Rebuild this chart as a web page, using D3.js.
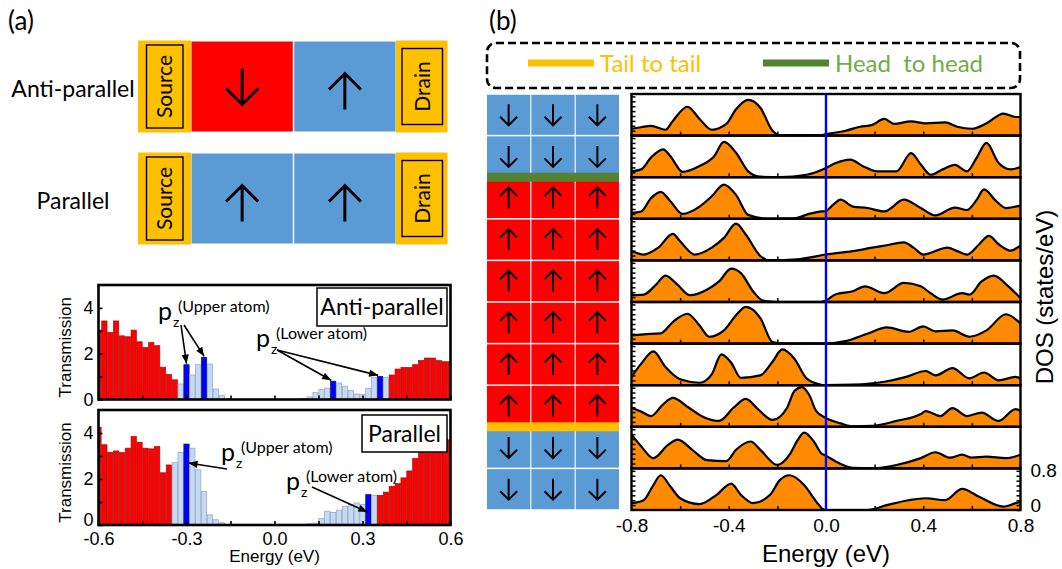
<!DOCTYPE html>
<html>
<head>
<meta charset="utf-8">
<script src="https://cdnjs.cloudflare.com/ajax/libs/d3/7.8.5/d3.min.js"></script>
<style>
	body { margin: 0; background: #fff; }
	text { font-family: "Liberation Sans", Arial, sans-serif; fill: #000; }
	.cal { font-family: Lato, "Open Sans", sans-serif; }
</style>
</head>
<body>
<svg id="fig" width="1062" height="569"></svg>
<script>
// ---------- data ----------
// (a) device sketch
var deviceLabels = ["Anti-parallel", "Parallel"];
var deviceSpins = [["down", "up"], ["up", "up"]];
var deviceColors = [["#ff0000", "#5b9bd5"], ["#5b9bd5", "#5b9bd5"]];

// (a) transmission, bins of 0.02 eV
var energies = [-0.60,-0.58,-0.56,-0.54,-0.52,-0.50,-0.48,-0.46,-0.44,-0.42,-0.40,-0.38,-0.36,-0.34,-0.32,-0.30,
	-0.28,-0.26,-0.24,-0.22,-0.20,-0.18,-0.16,-0.14,-0.12,-0.10,-0.08,-0.06,-0.04,-0.02,0.00,0.02,0.04,0.06,0.08,
	0.10,0.12,0.14,0.16,0.18,0.20,0.22,0.24,0.26,0.28,0.30,0.32,0.34,0.36,0.38,0.40,0.42,0.44,0.46,0.48,0.50,
	0.52,0.54,0.56,0.58,0.60];
var transAP = [3.03,3.43,2.93,3.43,2.78,2.74,3.03,2.52,2.27,2.49,2.35,1.41,1.09,0.86,0.68,1.52,
	1.07,1.52,1.84,1.55,0.46,0.17,0.03,0,0,0,0,0,0,0,0,0,0,0,0,
	0.05,0.12,0.30,0.43,0.50,0.80,0.72,0.58,0.39,0.24,0.22,0.48,0.97,1.01,0.97,1.07,1.33,1.40,1.40,1.52,1.70,
	1.81,1.81,1.70,1.65,1.65];
var transP = [4.25,3.49,3.16,3.22,3.15,3.34,3.85,3.60,3.34,3.31,3.41,2.27,2.61,2.72,3.15,3.52,
	3.34,2.40,1.46,0.44,0.23,0.10,0.03,0,0,0,0,0,0,0,0,0,0,0,0,
	0.03,0.05,0.08,0.28,0.60,0.55,0.65,0.80,0.88,0.96,0.90,1.32,1.29,1.29,1.43,1.68,1.80,2.05,2.35,2.90,3.63,
	3.90,3.95,3.85,3.75,3.70];
var apLight = [[-0.32, -0.16], [0.10, 0.38]];
var apPz = [-0.30, -0.24, 0.20, 0.36];
var pLight = [[-0.34, -0.16], [0.10, 0.34]];
var pPz = [-0.30, 0.32];
var transTicks = [-0.6, -0.3, 0, 0.3, 0.6];

// (b) layer spins, top to bottom
var layerSpins = ["down","down","up","up","up","up","up","up","down","down"];

// (b) DOS per layer, [energy eV, states/eV]
var dos1 = [[-0.80,0.14],[-0.76,0.17],[-0.72,0.20],[-0.66,0.12],[-0.63,0.30],[-0.57,0.59],[-0.52,0.34],[-0.47,0.12],[-0.41,0.24],[-0.37,0.54],[-0.32,0.73],[-0.27,0.57],[-0.22,0.10],[-0.19,0.01],[-0.02,0.01],[0.00,0.03],[0.08,0.10],[0.14,0.18],[0.19,0.22],[0.24,0.34],[0.28,0.24],[0.35,0.29],[0.41,0.25],[0.49,0.27],[0.54,0.18],[0.60,0.14],[0.66,0.25],[0.73,0.45],[0.78,0.38],[0.80,0.38]];
var dos2 = [[-0.80,0.12],[-0.76,0.16],[-0.72,0.40],[-0.67,0.57],[-0.64,0.43],[-0.59,0.11],[-0.52,0.23],[-0.46,0.43],[-0.42,0.72],[-0.37,0.50],[-0.32,0.12],[-0.27,0.01],[-0.19,0.00],[-0.08,0.05],[0.00,0.19],[0.04,0.29],[0.10,0.36],[0.15,0.23],[0.21,0.12],[0.29,0.12],[0.35,0.49],[0.39,0.26],[0.43,0.05],[0.48,0.16],[0.53,0.25],[0.58,0.12],[0.62,0.40],[0.66,0.70],[0.71,0.29],[0.76,0.16],[0.80,0.21]];
var dos3 = [[-0.80,0.12],[-0.76,0.15],[-0.72,0.42],[-0.68,0.55],[-0.64,0.36],[-0.59,0.10],[-0.52,0.25],[-0.47,0.46],[-0.42,0.70],[-0.37,0.49],[-0.32,0.08],[-0.24,0.00],[-0.13,0.01],[-0.07,0.10],[-0.02,0.15],[0.00,0.16],[0.03,0.29],[0.06,0.39],[0.11,0.25],[0.17,0.22],[0.24,0.15],[0.32,0.39],[0.39,0.22],[0.45,0.07],[0.53,0.23],[0.58,0.18],[0.62,0.39],[0.65,0.60],[0.70,0.36],[0.74,0.22],[0.80,0.27]];
var dos4 = [[-0.80,0.19],[-0.75,0.12],[-0.69,0.26],[-0.63,0.54],[-0.60,0.39],[-0.54,0.12],[-0.47,0.26],[-0.42,0.46],[-0.37,0.75],[-0.33,0.53],[-0.27,0.09],[-0.23,0.00],[-0.12,0.02],[0.00,0.12],[0.11,0.19],[0.19,0.26],[0.25,0.31],[0.32,0.37],[0.36,0.26],[0.40,0.12],[0.50,0.26],[0.54,0.19],[0.58,0.12],[0.63,0.33],[0.67,0.50],[0.71,0.33],[0.76,0.20],[0.80,0.31]];
var dos5 = [[-0.80,0.14],[-0.75,0.15],[-0.70,0.35],[-0.66,0.54],[-0.61,0.35],[-0.56,0.14],[-0.49,0.25],[-0.44,0.42],[-0.39,0.68],[-0.35,0.59],[-0.30,0.22],[-0.26,0.03],[-0.20,0.00],[-0.02,0.00],[0.00,0.03],[0.04,0.16],[0.11,0.22],[0.16,0.32],[0.24,0.18],[0.32,0.39],[0.39,0.32],[0.43,0.18],[0.48,0.05],[0.56,0.18],[0.59,0.15],[0.64,0.42],[0.69,0.54],[0.75,0.32],[0.80,0.08]];
var dos6 = [[-0.80,0.17],[-0.75,0.19],[-0.68,0.21],[-0.63,0.44],[-0.57,0.61],[-0.52,0.37],[-0.48,0.14],[-0.42,0.27],[-0.37,0.58],[-0.33,0.75],[-0.27,0.52],[-0.22,0.03],[-0.18,0.00],[0.00,0.00],[0.08,0.05],[0.17,0.20],[0.25,0.33],[0.34,0.24],[0.40,0.35],[0.45,0.25],[0.52,0.27],[0.59,0.14],[0.66,0.27],[0.74,0.60],[0.80,0.41]];
var dos7 = [[-0.80,0.17],[-0.76,0.44],[-0.71,0.69],[-0.66,0.37],[-0.60,0.12],[-0.52,0.05],[-0.47,0.22],[-0.43,0.63],[-0.39,0.46],[-0.35,0.15],[-0.27,0.20],[-0.22,0.48],[-0.18,0.73],[-0.13,0.54],[-0.08,0.14],[-0.02,0.01],[0.00,0.00],[0.11,0.01],[0.24,0.07],[0.33,0.17],[0.41,0.29],[0.45,0.20],[0.52,0.35],[0.59,0.14],[0.65,0.26],[0.71,0.10],[0.78,0.17],[0.80,0.14]];
var dos8 = [[-0.80,0.39],[-0.76,0.31],[-0.72,0.22],[-0.67,0.46],[-0.63,0.59],[-0.57,0.41],[-0.50,0.19],[-0.44,0.12],[-0.38,0.39],[-0.33,0.57],[-0.28,0.36],[-0.22,0.14],[-0.16,0.39],[-0.13,0.73],[-0.10,0.81],[-0.07,0.66],[-0.04,0.32],[0.00,0.18],[0.06,0.07],[0.11,0.01],[0.19,0.02],[0.29,0.12],[0.39,0.26],[0.41,0.32],[0.47,0.22],[0.52,0.38],[0.58,0.22],[0.64,0.29],[0.71,0.12],[0.78,0.36],[0.80,0.32]];
var dos9 = [[-0.80,0.69],[-0.76,0.45],[-0.71,0.21],[-0.65,0.48],[-0.61,0.59],[-0.55,0.38],[-0.49,0.17],[-0.41,0.15],[-0.37,0.38],[-0.31,0.55],[-0.27,0.38],[-0.20,0.07],[-0.15,0.28],[-0.12,0.55],[-0.09,0.73],[-0.05,0.55],[-0.02,0.31],[0.00,0.26],[0.04,0.14],[0.11,0.01],[0.19,0.00],[0.29,0.07],[0.39,0.21],[0.45,0.33],[0.51,0.22],[0.56,0.28],[0.60,0.22],[0.66,0.24],[0.74,0.21],[0.80,0.28]];
var dos10 = [[-0.80,0.14],[-0.75,0.20],[-0.71,0.51],[-0.68,0.71],[-0.64,0.48],[-0.60,0.24],[-0.52,0.12],[-0.45,0.31],[-0.39,0.54],[-0.35,0.31],[-0.30,0.14],[-0.23,0.31],[-0.19,0.61],[-0.15,0.71],[-0.09,0.51],[-0.04,0.17],[-0.01,0.01],[0.00,0.00],[0.17,0.00],[0.25,0.10],[0.34,0.20],[0.41,0.24],[0.49,0.20],[0.56,0.43],[0.63,0.27],[0.73,0.07],[0.78,0.14],[0.80,0.17]];
var dosLayers = [dos1, dos2, dos3, dos4, dos5, dos6, dos7, dos8, dos9, dos10];
var dosTicks = [-0.8, -0.4, 0, 0.4, 0.8];

var legendLabels = ["Tail to tail", "Head  to head"];
var legendColors = ["#ffc000", "#548235"];
var legendText = ["#ffc000", "#70ad47"];

// ---------- helpers ----------
var svg = d3.select("#fig");
var defs = svg.append("defs");
defs.append("marker")
	.attr("id", "ah").attr("viewBox", "0 0 10 10")
	.attr("refX", 10).attr("refY", 5)
	.attr("markerUnits", "userSpaceOnUse")
	.attr("markerWidth", 10).attr("markerHeight", 9)
	.attr("orient", "auto")
	.append("path").attr("d", "M0,1L10,5L0,9z").attr("fill", "#000");

function arrowPath(cx, cy, len, hw, hl, dir) {
	var s = dir === "up" ? -1 : 1;
	var tip = cy + s * len / 2, tail = cy - s * len / 2;
	var p = d3.path();
	p.moveTo(cx, tail); p.lineTo(cx, tip);
	p.moveTo(cx - hw, tip - s * hl); p.lineTo(cx, tip); p.lineTo(cx + hw, tip - s * hl);
	return p.toString();
}
function fmt1(d) { return d.toFixed(1); }

// ---------- (a) device ----------
svg.append("text").attr("class", "cal").attr("x", 8).attr("y", 30)
	.style("font-size", "26px").text("(a)");

var rowTop = [41.5, 153.5], rowH = 90;
var cellX = d3.scaleBand().domain([0, 1]).range([191.5, 395.5]).paddingInner(0.014);

deviceLabels.forEach(function(lab, r) {
	var y0 = rowTop[r];
	var g = svg.append("g");
	g.append("text").attr("class", "cal")
		.attr("x", 73).attr("y", y0 + 47).attr("dy", "0.35em")
		.attr("text-anchor", "middle").style("font-size", "23px").text(lab);

	// leads
	[{x: 138, w: 53, ix: 146.5, iw: 36.5, t: "Source"}, {x: 396, w: 51.5, ix: 402, iw: 40.5, t: "Drain"}]
	.forEach(function(ld, k) {
		g.append("rect").attr("x", ld.x).attr("y", y0 - 1).attr("width", ld.w).attr("height", rowH + 2)
			.attr("fill", "#ffc000");
		var iy = k === 0 ? 3.5 : 7;
		g.append("rect").attr("x", ld.ix).attr("y", y0 + iy).attr("width", ld.iw).attr("height", rowH - 2 * iy)
			.attr("fill", "none").attr("stroke", "#000").attr("stroke-width", 1.4);
		g.append("text").attr("class", "cal")
			.attr("transform", "translate(" + (ld.ix + ld.iw / 2) + "," + (y0 + rowH / 2) + ") rotate(-90)")
			.attr("text-anchor", "middle").attr("dy", "0.35em")
			.style("font-size", "21px").text(ld.t);
	});

	g.selectAll(".cell").data(deviceSpins[r]).enter().append("rect")
		.attr("x", function(d, i) { return cellX(i); })
		.attr("y", y0).attr("width", cellX.bandwidth()).attr("height", rowH)
		.attr("fill", function(d, i) { return deviceColors[r][i]; });
	g.selectAll(".arr").data(deviceSpins[r]).enter().append("path")
		.attr("d", function(d, i) {
			return arrowPath(cellX(i) + cellX.bandwidth() / 2, y0 + rowH / 2 + (d === "up" ? 5 : 0), 36, 16, 16, d);
		})
		.attr("fill", "none").attr("stroke", "#000").attr("stroke-width", 3);
});

// ---------- (a) transmission ----------
var xT = d3.scaleLinear().domain([-0.6, 0.6]).range([98.5, 450.5]);
var transPanels = [
	{vals: transAP, light: apLight, pz: apPz, top: 285, bottom: 399.5, labels: false},
	{vals: transP, light: pLight, pz: pPz, top: 410, bottom: 525, labels: true}
];
var bw = xT(0.02) - xT(0);

transPanels.forEach(function(P, k) {
	var y = d3.scaleLinear().domain([0, 5]).range([P.bottom, P.top]);
	var g = svg.append("g");
	defs.append("clipPath").attr("id", "tclip" + k).append("rect")
		.attr("x", xT(-0.6)).attr("y", P.top).attr("width", xT(0.6) - xT(-0.6)).attr("height", P.bottom - P.top);

	function kind(e) {
		if (P.pz.some(function(p) { return Math.abs(p - e) < 1e-6; })) return "pz";
		if (P.light.some(function(r) { return e >= r[0] - 1e-6 && e <= r[1] + 1e-6; })) return "light";
		return "red";
	}
	var fills = {red: "#ff0000", light: "#c6d9f1", pz: "#0000ff"};
	var strokes = {red: "#9a1010", light: "#8ea4c8", pz: "#101060"};

	g.append("g").attr("clip-path", "url(#tclip" + k + ")")
		.selectAll("rect").data(energies).enter()
		.filter(function(e, i) { return P.vals[i] > 0; })
		.append("rect")
		.attr("x", function(e) { return xT(e) - bw / 2 + 0.3; })
		.attr("width", bw - 0.6)
		.attr("y", function(e) { return y(P.vals[energies.indexOf(e)]); })
		.attr("height", function(e) { return P.bottom - y(P.vals[energies.indexOf(e)]); })
		.attr("fill", function(e) { return fills[kind(e)]; })
		.attr("stroke", function(e) { return strokes[kind(e)]; })
		.attr("stroke-width", 0.7);

	// axes with inward ticks
	var ay = g.append("g").attr("transform", "translate(" + xT(-0.6) + ",0)")
		.call(d3.axisLeft(y).tickValues([0, 2, 4]).tickFormat(d3.format("d"))
			.tickSizeInner(-4).tickSizeOuter(0).tickPadding(5));
	if (P.labels) ay.selectAll("text").attr("dy", function(d) { return d === 0 ? "0.05em" : "0.32em"; });
	g.append("g").attr("transform", "translate(" + xT(-0.6) + ",0)")
		.call(d3.axisLeft(y).tickValues([1, 3]).tickFormat("").tickSizeInner(-4).tickSizeOuter(0));
	g.append("g").attr("transform", "translate(0," + P.bottom + ")")
		.call(d3.axisBottom(xT).tickValues(transTicks).tickFormat(P.labels ? fmt1 : "")
			.tickSizeInner(-4).tickSizeOuter(0).tickPadding(7));
	g.append("g").attr("transform", "translate(0," + P.bottom + ")")
		.call(d3.axisBottom(xT).tickValues([-0.45, -0.15, 0.15, 0.45]).tickFormat("").tickSizeInner(-4).tickSizeOuter(0));
	g.selectAll(".domain").remove();
	g.selectAll(".tick line").attr("stroke", "#000").attr("stroke-width", 1.6);
	g.selectAll(".tick text").style("font-size", "18px").attr("fill", "#000")
		.style("font-family", "'Liberation Sans', Arial, sans-serif");

	g.append("rect").attr("x", xT(-0.6)).attr("y", P.top)
		.attr("width", xT(0.6) - xT(-0.6)).attr("height", P.bottom - P.top)
		.attr("fill", "none").attr("stroke", "#000").attr("stroke-width", 2.6);

	g.append("text").attr("transform", "translate(65," + ((P.top + P.bottom) / 2 + 5) + ") rotate(-90)")
		.attr("text-anchor", "middle").attr("dy", "0.35em").style("font-size", "17px").text("Transmission");
});
svg.append("text").attr("x", xT(0)).attr("y", 562).attr("text-anchor", "middle")
	.style("font-size", "17px").text("Energy (eV)");

// labelled boxes
function labelBox(x, y, w, h, t) {
	svg.append("rect").attr("x", x).attr("y", y).attr("width", w).attr("height", h)
		.attr("fill", "#fff").attr("stroke", "#000").attr("stroke-width", 1.5);
	svg.append("text").attr("class", "cal").attr("x", x + w / 2).attr("y", y + h / 2).attr("dy", "0.36em")
		.attr("text-anchor", "middle").style("font-size", "23px").text(t);
}
labelBox(317, 288, 130, 38, "Anti-parallel");
labelBox(362, 415, 85, 37, "Parallel");

// p_z annotations
function pz(x, y, atom) {
	var t = svg.append("g").attr("class", "cal");
	t.append("text").attr("class", "cal").attr("x", x).attr("y", y).style("font-size", "25px").text("p");
	t.append("text").attr("class", "cal").attr("x", x + 15).attr("y", y + 7).style("font-size", "14px").text("z");
	t.append("text").attr("class", "cal").attr("x", x + 20).attr("y", y - 8).style("font-size", "16px").text(atom);
}
function pointer(x1, y1, x2, y2) {
	svg.append("line").attr("x1", x1).attr("y1", y1).attr("x2", x2).attr("y2", y2)
		.attr("stroke", "#000").attr("stroke-width", 1.6).attr("marker-end", "url(#ah)");
}
var yA = d3.scaleLinear().domain([0, 5]).range([399.5, 285]);
pz(158, 320, "(Upper atom)");
pointer(181, 325, xT(-0.30), yA(transAP[15]) - 1);
pointer(184, 325, xT(-0.24), yA(transAP[18]) - 1);
pz(256, 347, "(Lower atom)");
pointer(277, 350, xT(0.20) - 2, yA(transAP[40]) - 1);
pointer(277, 350, xT(0.36) - 2, yA(transAP[48]) - 1);
pz(221, 461, "(Upper atom)");
pointer(227, 469, xT(-0.30) + 2, 463);
pz(286, 490, "(Lower atom)");
pointer(312, 487, xT(0.32) - 1, 512);

// ---------- (b) ----------
svg.append("text").attr("class", "cal").attr("x", 489).attr("y", 30)
	.style("font-size", "26px").text("(b)");

svg.append("rect").attr("x", 487).attr("y", 43).attr("width", 533).attr("height", 45)
	.attr("rx", 9).attr("fill", "none").attr("stroke", "#000").attr("stroke-width", 2.6)
	.attr("stroke-dasharray", "8,4");
var legX = [528, 763];
legendLabels.forEach(function(l, i) {
	svg.append("line").attr("x1", legX[i]).attr("x2", legX[i] + 66).attr("y1", 63).attr("y2", 63)
		.attr("stroke", legendColors[i]).attr("stroke-width", 7);
	svg.append("text").attr("class", "cal").attr("x", legX[i] + 72).attr("y", 72)
		.style("font-size", "24px").style("white-space", "pre").attr("xml:space", "preserve")
		.style("fill", legendText[i]).text(l);
});

var rows = d3.scaleBand().domain(d3.range(dosLayers.length)).range([94, 510]);
var xD = d3.scaleLinear().domain([-0.8, 0.8]).range([631.5, 1020.5]);

// spin grid
var cols = d3.scaleBand().domain([0, 1, 2]).range([487, 619]).paddingInner(0.025);
var grid = svg.append("g");
layerSpins.forEach(function(s, r) {
	[0, 1, 2].forEach(function(c) {
		grid.append("rect").attr("x", cols(c)).attr("y", rows(r) + 0.75)
			.attr("width", cols.bandwidth()).attr("height", rows.bandwidth() - 1.5)
			.attr("fill", s === "up" ? "#ff0000" : "#5b9bd5");
		grid.append("path")
			.attr("d", arrowPath(cols(c) + cols.bandwidth() / 2, rows(r) + rows.bandwidth() / 2, 21, 8.5, 8.5, s))
			.attr("fill", "none").attr("stroke", "#000").attr("stroke-width", 2);
	});
});
// domain walls: head-to-head (down over up) green, tail-to-tail yellow
for (var r = 1; r < layerSpins.length; r++) {
	if (layerSpins[r] !== layerSpins[r - 1]) {
		var tail = layerSpins[r - 1] === "up";
		grid.append("rect").attr("x", 487).attr("y", rows(r) - 4.5).attr("width", 132).attr("height", 9)
			.attr("fill", tail ? legendColors[0] : legendColors[1]);
	}
}

// DOS panels
var dosG = svg.append("g");
dosLayers.forEach(function(data, k) {
	var top = rows(k), bot = top + rows.bandwidth();
	var y = d3.scaleLinear().domain([0, 0.85]).range([bot, top]);
	defs.append("clipPath").attr("id", "dclip" + k).append("rect")
		.attr("x", xD(-0.8)).attr("y", top).attr("width", xD(0.8) - xD(-0.8)).attr("height", bot - top);
	var area = d3.area().x(function(d) { return xD(d[0]); }).y0(bot).y1(function(d) { return y(d[1]); })
		.curve(d3.curveMonotoneX);
	var line = d3.line().x(function(d) { return xD(d[0]); }).y(function(d) { return y(d[1]); })
		.curve(d3.curveMonotoneX);
	var g = dosG.append("g").attr("clip-path", "url(#dclip" + k + ")");
	g.append("path").datum(data).attr("d", area).attr("fill", "#ff8a00");
	g.append("path").datum(data).attr("d", line).attr("fill", "none")
		.attr("stroke", "#000").attr("stroke-width", 2.2);

	var tg = dosG.append("g");
	tg.append("g").attr("transform", "translate(" + xD(-0.8) + ",0)")
		.call(d3.axisLeft(y).tickValues([0.1, 0.2, 0.3, 0.4, 0.5, 0.6, 0.7, 0.8]).tickFormat("")
			.tickSizeInner(-4).tickSizeOuter(0));
	tg.append("g").attr("transform", "translate(0," + bot + ")")
		.call(d3.axisBottom(xD).tickValues([-0.6, -0.4, -0.2, 0.2, 0.4, 0.6]).tickFormat("")
			.tickSizeInner(-4).tickSizeOuter(0));
	if (k === dosLayers.length - 1) {
		tg.append("g").attr("transform", "translate(" + xD(0.8) + ",0)")
			.call(d3.axisRight(y).tickValues([0.1, 0.2, 0.3, 0.4, 0.5, 0.6, 0.7]).tickFormat("")
				.tickSizeInner(-4).tickSizeOuter(0));
		var yl = tg.append("g").attr("transform", "translate(" + xD(0.8) + ",0)")
			.call(d3.axisRight(y).tickValues([0, 0.8]).tickFormat(function(d) { return d === 0 ? "0" : "0.8"; })
				.tickSizeInner(-4).tickSizeOuter(0).tickPadding(10));
		yl.selectAll("text").attr("dy", function(d) { return d === 0 ? "0.1em" : "0.32em"; });
		tg.append("g").attr("transform", "translate(0," + bot + ")")
			.call(d3.axisBottom(xD).tickValues(dosTicks).tickFormat(fmt1).tickSizeInner(0).tickSizeOuter(0).tickPadding(9));
	}
	tg.selectAll(".domain").remove();
	tg.selectAll(".tick line").attr("stroke", "#000").attr("stroke-width", 1.5);
	tg.selectAll(".tick text").style("font-size", "19px").attr("fill", "#000")
		.style("font-family", "'Liberation Sans', Arial, sans-serif");

	dosG.append("rect").attr("x", xD(-0.8)).attr("y", top).attr("width", xD(0.8) - xD(-0.8))
		.attr("height", bot - top).attr("fill", "none").attr("stroke", "#000").attr("stroke-width", 2.4);
});
dosG.append("line").attr("x1", xD(0)).attr("x2", xD(0)).attr("y1", rows(0)).attr("y2", 510)
	.attr("stroke", "#0000ff").attr("stroke-width", 2.4);

svg.append("text").attr("x", xD(0)).attr("y", 562).attr("text-anchor", "middle")
	.style("font-size", "24px").text("Energy (eV)");
svg.append("text").attr("transform", "translate(1045,297) rotate(-90)").attr("text-anchor", "middle")
	.attr("dy", "0.35em").style("font-size", "24px").text("DOS (states/eV)");
</script>
</body>
</html>
